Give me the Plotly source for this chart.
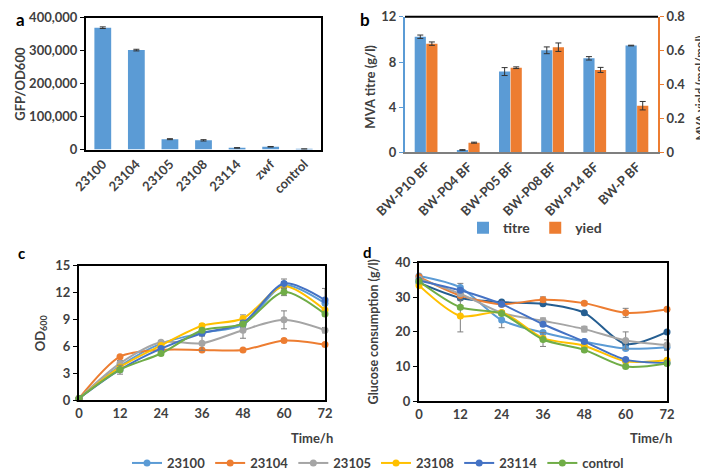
import plotly.graph_objects as go

# ---------------- data ----------------
a_categories = ["23100", "23104", "23105", "23108", "23114", "zwf", "control"]
a_values = [370000, 302000, 31500, 28000, 5000, 8500, 1500]
a_err = [2500, 2500, 1500, 2000, 800, 800, 300]

b_categories = ["BW-P10 BF", "BW-P04 BF", "BW-P05 BF", "BW-P08 BF", "BW-P14 BF", "BW-P BF"]
b_titre = [10.24, 0.22, 7.16, 9.04, 8.33, 9.46]
b_titre_err = [0.15, 0.03, 0.35, 0.3, 0.15, 0.03]
b_yield = [0.642, 0.058, 0.5, 0.621, 0.487, 0.276]
b_yield_err = [0.01, 0.003, 0.005, 0.025, 0.015, 0.025]

time_h = [0, 12, 24, 36, 48, 60, 72]
series_names = ["23100", "23104", "23105", "23108", "23114", "control"]

c_od = {
    "23100":   [0.2, 3.8, 6.3, 7.5, 8.4, 12.8, 10.8],
    "23104":   [0.2, 4.85, 5.6, 5.6, 5.6, 6.65, 6.2],
    "23105":   [0.2, 4.1, 6.45, 6.35, 7.8, 8.95, 7.8],
    "23108":   [0.2, 3.7, 6.1, 8.3, 9.1, 12.7, 10.05],
    "23114":   [0.2, 3.4, 5.75, 7.45, 8.6, 13.0, 11.15],
    "control": [0.2, 3.4, 5.2, 7.8, 8.5, 12.05, 9.6],
}
c_err = {
    "23100":   [0, 0.6, 0.2, 0.3, 0.3, 0.4, 0.5],
    "23104":   [0, 0.1, 0.1, 0.1, 0.1, 0.15, 0.1],
    "23105":   [0, 0.3, 0.2, 0.8, 0.9, 1.0, 0.3],
    "23108":   [0, 0.1, 0.2, 0.2, 0.4, 0.3, 0.2],
    "23114":   [0, 0.2, 0.2, 0.2, 0.3, 0.5, 1.3],
    "control": [0, 0.5, 0.2, 0.2, 0.2, 0.4, 0.2],
}

d_glucose = {
    "23100":   [36.1, 32.8, 23.4, 19.8, 17.2, 15.2, 15.6],
    "23104":   [35.9, 30.5, 28.0, 29.3, 28.3, 25.5, 26.5],
    "23105":   [35.3, 31.0, 25.5, 23.2, 20.8, 17.5, 16.2],
    "23108":   [33.4, 24.6, 25.6, 18.2, 16.0, 11.5, 11.8],
    "23114":   [34.8, 32.0, 28.0, 22.2, 17.2, 12.0, 11.0],
    "control": [34.6, 27.1, 25.3, 17.8, 14.8, 10.0, 10.9],
}
d_extra = [34.2, 29.8, 28.6, 28.1, 25.5, 16.5, 20.0]
d_err = {
    "23100":   [0.3, 1.2, 2.2, 0.5, 0.5, 0.5, 0.5],
    "23104":   [0.3, 0.5, 0.5, 0.8, 0.5, 1.3, 0.4],
    "23105":   [0.3, 0.5, 0.5, 0.8, 0.8, 2.5, 1.5],
    "23108":   [0.3, 4.6, 0.5, 0.5, 0.5, 0.4, 0.4],
    "23114":   [0.3, 0.5, 0.5, 0.5, 0.5, 0.4, 0.4],
    "control": [0.3, 0.5, 0.5, 2.0, 0.5, 0.4, 0.4],
}

colors = {
    "23100": "#5B9BD5", "23104": "#ED7D31", "23105": "#A5A5A5",
    "23108": "#FFC000", "23114": "#4472C4", "control": "#70AD47",
}
extra_color = "#255E91"

# ---------------- figure ----------------
W, H = 708, 470
def xd(x0, x1):
    return [x0 / W, x1 / W]
def yd(top, bottom):
    return [1 - bottom / H, 1 - top / H]

FONT = "Lato"
TXT = "#404040"
tickfont = dict(family=FONT, size=13, color=TXT, weight="bold")

fig = go.Figure()

# panel a
fig.add_trace(go.Bar(
    x=a_categories, y=a_values, xaxis="x", yaxis="y",
    marker=dict(color="#5B9BD5", line=dict(width=0)), width=0.5,
    error_y=dict(type="data", array=a_err, color="#333333", thickness=1, width=3),
    showlegend=False))

# panel b
fig.add_trace(go.Bar(
    x=b_categories, y=b_titre, xaxis="x2", yaxis="y2", name="titre",
    marker=dict(color="#5B9BD5", line=dict(width=0)), width=0.265, offset=-0.27,
    error_y=dict(type="data", array=b_titre_err, color="#333333", thickness=1, width=3),
    legend="legend2"))
fig.add_trace(go.Bar(
    x=b_categories, y=b_yield, xaxis="x2", yaxis="y3", name="yied",
    marker=dict(color="#ED7D31", line=dict(width=0)), width=0.265, offset=0.005,
    error_y=dict(type="data", array=b_yield_err, color="#333333", thickness=1, width=3),
    legend="legend2"))

# panel c
for nm in series_names:
    fig.add_trace(go.Scatter(
        x=time_h, y=c_od[nm], xaxis="x4", yaxis="y4", name=nm,
        mode="lines+markers", line=dict(color=colors[nm], width=2, shape="spline", smoothing=0.8),
        marker=dict(color=colors[nm], size=7),
        error_y=dict(type="data", array=c_err[nm], color="#7F7F7F", thickness=1, width=3),
        cliponaxis=False, showlegend=True, legend="legend"))

# panel d
fig.add_trace(go.Scatter(
    x=time_h, y=d_extra, xaxis="x5", yaxis="y5", name="extra",
    mode="lines+markers", line=dict(color=extra_color, width=2, shape="spline", smoothing=0.8),
    marker=dict(color=extra_color, size=7), cliponaxis=False, showlegend=False))
for nm in series_names:
    fig.add_trace(go.Scatter(
        x=time_h, y=d_glucose[nm], xaxis="x5", yaxis="y5", name=nm,
        mode="lines+markers", line=dict(color=colors[nm], width=2, shape="spline", smoothing=0.8),
        marker=dict(color=colors[nm], size=7),
        error_y=dict(type="data", array=d_err[nm], color="#7F7F7F", thickness=1, width=3),
        cliponaxis=False, showlegend=False))

box = dict(showline=True, linecolor="black", linewidth=2, mirror=True, showgrid=False,
           zeroline=False, tickfont=tickfont, automargin=False, ticklabeloverflow="allow")

fig.update_layout(
    width=W, height=H, margin=dict(l=0, r=0, t=0, b=0),
    paper_bgcolor="white", plot_bgcolor="white",
    font=dict(family=FONT, color=TXT),
    barmode="overlay",
    # panel a
    xaxis=dict(domain=xd(78, 313), anchor="y", type="category", tickangle=-45, ticks="", **box),
    yaxis=dict(domain=yd(10, 144), anchor="x", range=[0, 400000], dtick=100000, tickformat=",",
               ticks="outside", ticklen=4, tickcolor="black", **box),
    # panel b
    xaxis2=dict(domain=xd(397, 650), anchor="y2", type="category", tickangle=-45,
                showline=True, linecolor="#7F7F7F", linewidth=1.5, showgrid=False, zeroline=False,
                tickfont=tickfont, automargin=False, ticklabeloverflow="allow"),
    yaxis2=dict(domain=yd(9, 147), anchor="x2", range=[0, 12], dtick=4, showline=True,
                linecolor="#5B9BD5", linewidth=2, ticks="outside", ticklen=4, tickcolor="#5B9BD5",
                showgrid=False, zeroline=False, tickfont=tickfont, automargin=False,
                ticklabeloverflow="allow"),
    yaxis3=dict(overlaying="y2", anchor="x2", side="right", range=[0, 0.8], dtick=0.2,
                showline=True, linecolor="#ED7D31", linewidth=2, ticks="outside", ticklen=4,
                tickcolor="#ED7D31", showgrid=False, zeroline=False, tickfont=tickfont,
                automargin=False, ticklabeloverflow="allow"),
    # panel c
    xaxis4=dict(domain=xd(71, 317), anchor="y4", range=[0, 72], dtick=12, ticks="", **box),
    yaxis4=dict(domain=yd(262, 399), anchor="x4", range=[0, 15], dtick=3,
                ticks="outside", ticklen=4, tickcolor="black", **box),
    # panel d
    xaxis5=dict(domain=xd(411, 659), anchor="y5", range=[0, 72], dtick=12, ticks="", **box),
    yaxis5=dict(domain=yd(259, 400), anchor="x5", range=[0, 40], dtick=10,
                ticks="outside", ticklen=4, tickcolor="black", **box),
    legend=dict(orientation="h", x=370 / W, xanchor="center", y=1 - 463 / H, yanchor="middle",
                font=dict(family=FONT, size=13, color=TXT, weight="bold"),
                bgcolor="rgba(0,0,0,0)", itemwidth=30, traceorder="normal"),
    legend2=dict(orientation="h", x=527 / W, xanchor="center", y=1 - 224 / H, yanchor="middle",
                 font=dict(family=FONT, size=14, color=TXT, weight="bold"),
                 bgcolor="rgba(0,0,0,0)", itemwidth=30),
)

# top black line of panel b
fig.add_shape(type="line", xref="x2 domain", yref="y2 domain", x0=0, x1=1, y0=1, y1=1,
              line=dict(color="black", width=2))

def ann(text, x, y, size=13, angle=0, xanchor="center", weight="bold", color=TXT):
    fig.add_annotation(text=text, x=x / W, y=1 - y / H, xref="paper", yref="paper",
                       showarrow=False, textangle=angle, xanchor=xanchor, yanchor="middle",
                       borderpad=0,
                       font=dict(family=FONT, size=size, color=color, weight=weight))

# panel letters
ann("a", 12, 12, size=17, color="black")
ann("b", 357, 12, size=17, color="black")
ann("c", 13, 249, size=15, color="black")
ann("d", 359, 248, size=15, color="black")

# axis titles
ann("GFP/OD600", 12, 77, size=13, angle=-90)
ann("MVA titre (g/l)", 362, 80, size=13, angle=-90)
ann("MVA yield (mol/mol)", 692, 82, size=11.5, angle=-90)
ann("OD<sub>600</sub>", 33, 331, size=13, angle=-90)
ann("Glucose consumption (g/l)", 365, 330, size=12.5, angle=-90)
ann("Time/h", 326, 437, size=13, xanchor="right")
ann("Time/h", 665, 437, size=13, xanchor="right")

fig.write_html("out.html")
